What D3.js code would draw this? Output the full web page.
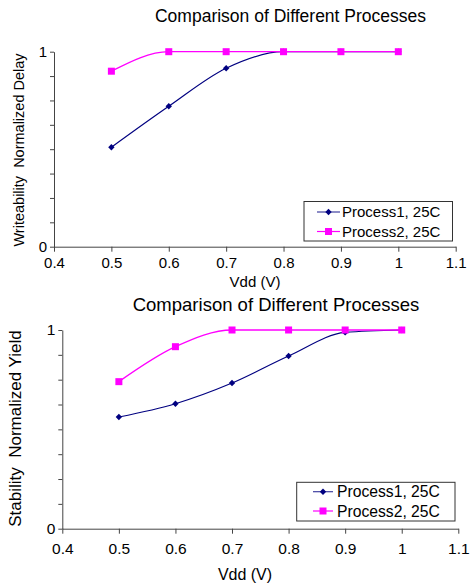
<!DOCTYPE html>
<html>
<head>
<meta charset="utf-8">
<script src="https://cdn.jsdelivr.net/npm/d3@7"></script>
<style>
  html, body { margin: 0; padding: 0; background: #fff; }
  svg { display: block; font-family: Arial, "Liberation Sans", sans-serif; }
</style>
</head>
<body>
<svg id="chart" width="471" height="584"></svg>
<script>
// Supply voltage sweep (V)
const vdd = [0.5, 0.6, 0.7, 0.8, 0.9, 1.0];
const xTickValues = [0.4, 0.5, 0.6, 0.7, 0.8, 0.9, 1.0, 1.1];
const xTickLabels = ["0.4", "0.5", "0.6", "0.7", "0.8", "0.9", "1", "1.1"];
const yTickValues = [0, 0.125, 0.25, 0.375, 0.5, 0.625, 0.75, 0.875, 1];
const yTickLabels = { 0: "0", 1: "1" };
const seriesNames = ["Process1, 25C", "Process2, 25C"];

// Writeability: normalized delay
const delayProcess1 = [0.51, 0.72, 0.915, 1.0, 1.0, 1.0];
const delayProcess2 = [0.90, 1.0, 1.0, 1.0, 1.0, 1.0];

// Stability: normalized yield
const yieldProcess1 = [0.562, 0.629, 0.733, 0.869, 0.988, 1.0];
const yieldProcess2 = [0.74, 0.916, 1.0, 1.0, 1.0, 1.0];

const svg = d3.select("#chart");
const navy = "#000080", magenta = "#ff00ff";
const diamond = d3.symbol(d3.symbolDiamond2 || d3.symbolDiamond, 26);

function panel(cfg) {
  const g = svg.append("g");
  const x = d3.scaleLinear().domain([0.4, 1.1]).range([cfg.left, cfg.right]);
  const y = d3.scaleLinear().domain([0, 1]).range([cfg.bottom, cfg.top]);

  // title
  g.append("text").attr("x", cfg.titleX).attr("y", cfg.titleY)
    .attr("text-anchor", "middle").attr("font-size", cfg.titleSize)
    .text("Comparison of Different Processes");

  // x axis
  const xAxis = g.append("g").attr("transform", `translate(0,${cfg.bottom})`)
    .call(d3.axisBottom(x).tickValues(xTickValues).tickSize(5).tickSizeOuter(0)
      .tickFormat((d, i) => xTickLabels[i]));
  xAxis.select(".domain").attr("stroke", "#444");
  xAxis.selectAll(".tick line").attr("stroke", "#444");
  xAxis.selectAll(".tick text").attr("font-size", cfg.tickSize).attr("fill", "#000")
    .attr("font-family", "Arial, 'Liberation Sans', sans-serif").attr("dy", cfg.xTickDy);

  // y axis
  const yAxis = g.append("g").attr("transform", `translate(${cfg.left},0)`)
    .call(d3.axisLeft(y).tickValues(yTickValues).tickSize(4).tickSizeOuter(0)
      .tickFormat(d => yTickLabels[d] !== undefined ? yTickLabels[d] : ""));
  yAxis.select(".domain").attr("stroke", "#444");
  yAxis.selectAll(".tick line").attr("stroke", "#444");
  yAxis.selectAll(".tick text").attr("font-size", cfg.tickSize).attr("fill", "#000")
    .attr("font-family", "Arial, 'Liberation Sans', sans-serif").attr("x", -7);

  // axis titles
  g.append("text").attr("x", cfg.xLabelX).attr("y", cfg.xLabelY)
    .attr("text-anchor", "middle").attr("font-size", cfg.xLabelSize).text("Vdd (V)");
  g.append("text")
    .attr("transform", `translate(${cfg.yLabelX},${cfg.yLabelY}) rotate(-90)`)
    .attr("text-anchor", "middle").attr("font-size", cfg.yLabelSize)
    .attr("xml:space", "preserve").style("white-space", "pre")
    .text(cfg.yLabel);

  const line = d3.line().x((d, i) => x(vdd[i])).y(d => y(d)).curve(d3.curveMonotoneX);

  // Process1: navy line with diamonds
  g.append("path").datum(cfg.s1).attr("d", line).attr("fill", "none")
    .attr("stroke", navy).attr("stroke-width", 1.2);
  g.selectAll(".dia").data(cfg.s1).join("path").attr("class", "dia")
    .attr("d", diamond)
    .attr("transform", (d, i) => `translate(${x(vdd[i])},${y(d)})`)
    .attr("fill", navy);

  // Process2: magenta line with squares
  g.append("path").datum(cfg.s2).attr("d", line).attr("fill", "none")
    .attr("stroke", magenta).attr("stroke-width", 1.3);
  g.selectAll(".sq").data(cfg.s2).join("rect").attr("class", "sq")
    .attr("x", (d, i) => x(vdd[i]) - 3.5).attr("y", d => y(d) - 3.5)
    .attr("width", 7).attr("height", 7).attr("fill", magenta);

  // legend
  const L = cfg.legend;
  g.append("rect").attr("x", L.x).attr("y", L.y).attr("width", L.w).attr("height", L.h)
    .attr("fill", "#fff").attr("stroke", "#333").attr("stroke-width", 1);
  seriesNames.forEach((name, i) => {
    const cy = L.rowY[i];
    g.append("line").attr("x1", L.lx1).attr("x2", L.lx2).attr("y1", cy).attr("y2", cy)
      .attr("stroke", i === 0 ? "#4040a0" : magenta).attr("stroke-width", 1.2);
    const mx = (L.lx1 + L.lx2) / 2;
    if (i === 0) {
      g.append("path").attr("d", diamond)
        .attr("transform", `translate(${mx},${cy})`).attr("fill", navy);
    } else {
      g.append("rect").attr("x", mx - 3.5).attr("y", cy - 3.5).attr("width", 7).attr("height", 7)
        .attr("fill", magenta);
    }
    g.append("text").attr("x", L.tx).attr("y", cy).attr("dy", "0.36em")
      .attr("font-size", L.size).text(name);
  });
}

panel({
  left: 54, right: 455.7, top: 51.7, bottom: 246.7,
  titleX: 290.5, titleY: 22, titleSize: 17.5,
  tickSize: 15, xTickDy: "0.9em",
  xLabelX: 255, xLabelY: 287, xLabelSize: 15,
  yLabel: "Writeability  Normalized Delay", yLabelX: 24, yLabelY: 150, yLabelSize: 14.5,
  s1: delayProcess1, s2: delayProcess2,
  legend: { x: 304, y: 201.5, w: 148.5, h: 39.5, rowY: [212, 231.5], lx1: 317, lx2: 340, tx: 342, size: 15 }
});

panel({
  left: 62.3, right: 458.3, top: 330, bottom: 528.7,
  titleX: 276, titleY: 311, titleSize: 18.5,
  tickSize: 15.5, xTickDy: "1.1em",
  xLabelX: 245, xLabelY: 580, xLabelSize: 16,
  yLabel: "Stability  Normalized Yield", yLabelX: 21, yLabelY: 428.5, yLabelSize: 17,
  s1: yieldProcess1, s2: yieldProcess2,
  legend: { x: 296.7, y: 482.3, w: 158.3, h: 38.7, rowY: [491.7, 511], lx1: 313, lx2: 333, tx: 337, size: 15.7 }
});
</script>
</body>
</html>
